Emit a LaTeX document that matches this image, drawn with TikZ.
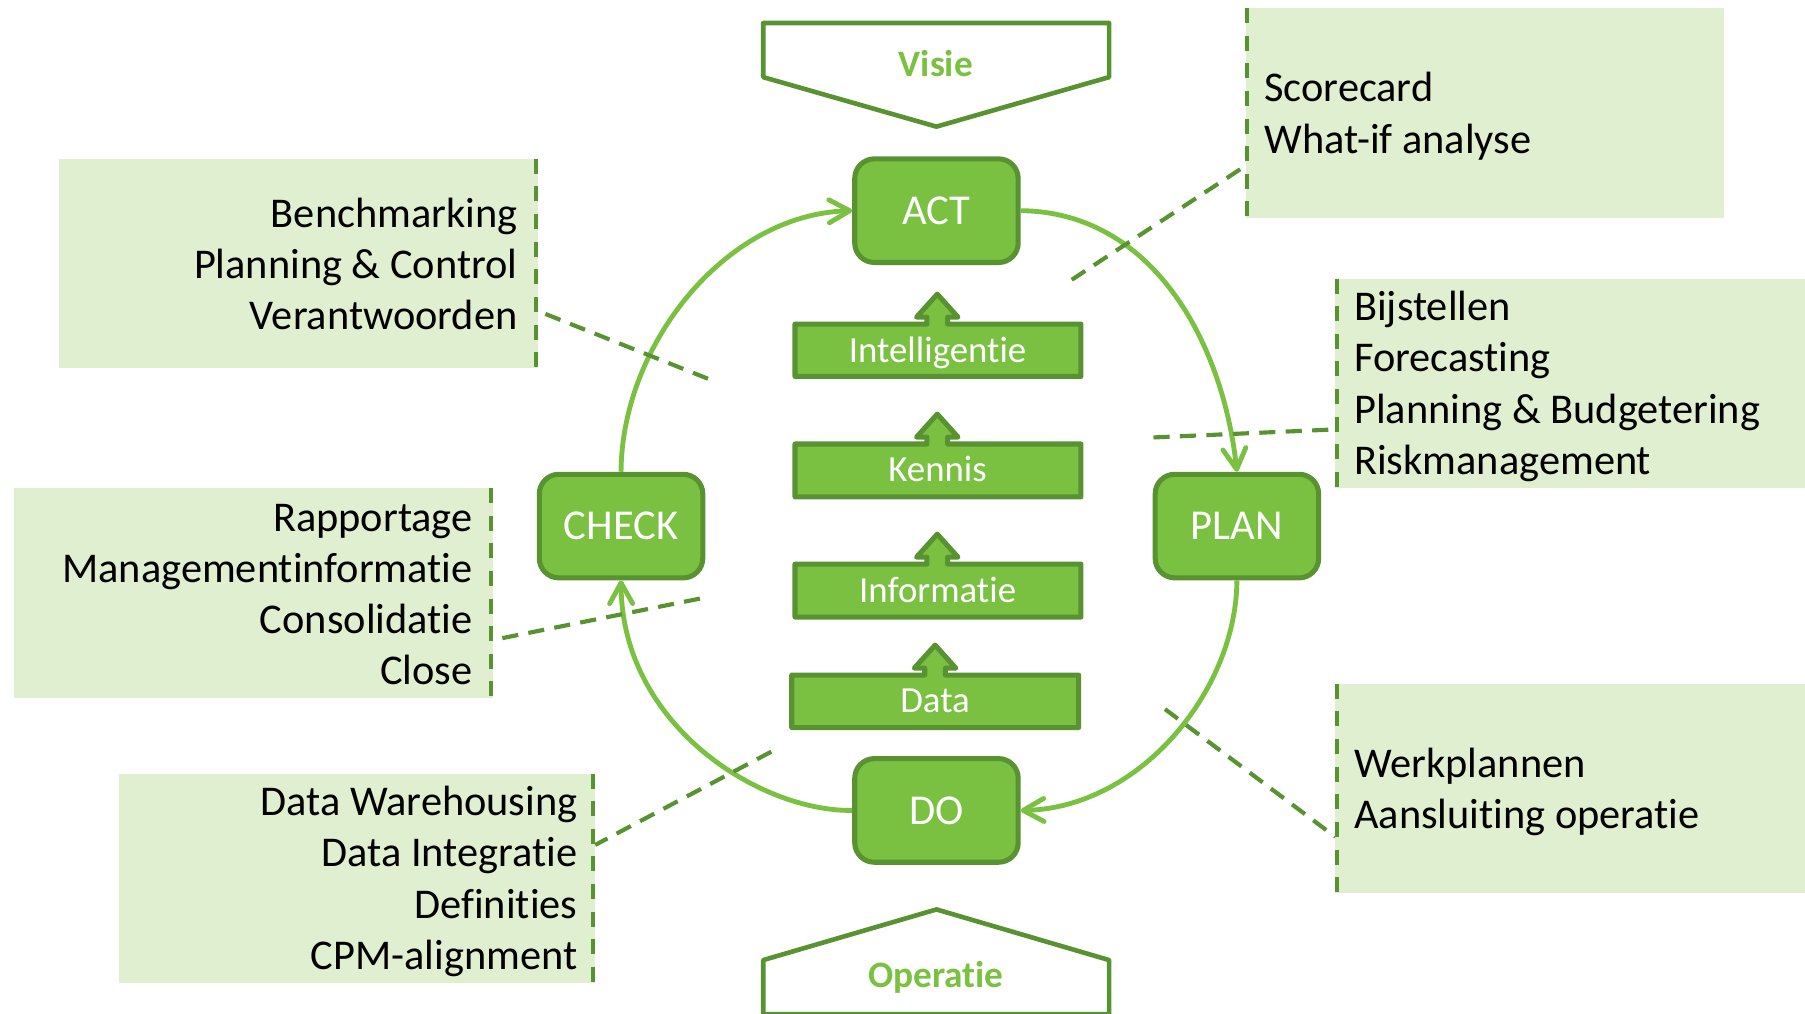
\documentclass[tikz,border=0pt]{standalone}
\usepackage{fontspec}
\setmainfont{Carlito}[Ligatures=NoCommon]
\usetikzlibrary{arrows.meta}
\definecolor{lg}{RGB}{122,193,66}
\definecolor{dg}{RGB}{89,146,49}
\definecolor{bx}{RGB}{223,239,208}
\newcommand\lyrpath[6]{% #1 xl, #2 xr, #3 cx, #4 ytop, #5 ybot, #6 tip
  \draw[layer] (#1,#4) -- ({#3-9},#4) -- ({#3-9},{#4-6}) -- ({#3-18},{#4-6}) -- (#3,#6)
    -- ({#3+18},{#4-6}) -- ({#3+9},{#4-6}) -- ({#3+9},#4) -- (#2,#4) -- (#2,#5) -- (#1,#5) -- cycle;}
\tikzset{
  phase/.style={rectangle, rounded corners=8.5pt, fill=lg, draw=dg, line width=2.2pt,
    minimum width=71pt, minimum height=45pt, inner sep=0pt, text=white,
    font=\fontsize{18.5}{22}\selectfont},
  cyc/.style={draw=lg, line width=2.1pt, -{Straight Barb[length=9pt,width=10pt,round]}},
  layer/.style={fill=lg, draw=dg, line width=2.2pt, line join=round},
  ltext/.style={text=white, font=\fontsize{16}{19}\selectfont, anchor=base, inner sep=0pt},
  lstr/.style={font=\fontsize{18.4}{22}\selectfont, inner sep=0pt, anchor=base east},
  lstl/.style={font=\fontsize{18.4}{22}\selectfont, inner sep=0pt, anchor=base west},
  dashline/.style={draw=dg, line width=1.8pt, dash pattern=on 7pt off 4.5pt},
  boxedge/.style={draw=dg, line width=1.8pt, dash pattern=on 6.5pt off 5.5pt},
  boxfill/.style={fill=bx},
  pent/.style={draw=dg, line width=2pt, line join=round, fill=white},
  ttl/.style={text=lg, font=\bfseries\fontsize{16.2}{19}\selectfont, inner sep=0pt}
}
\begin{document}
\begin{tikzpicture}[x=0.5pt,y=-0.5pt]
\useasboundingbox (0,0) rectangle (1568,880);

% ---- side boxes ----
\fill[boxfill] (1082,7) rectangle (1498,189);
\draw[boxedge] (1083.5,7) -- (1083.5,189);
\fill[boxfill] (51,138) rectangle (467,320);
\draw[boxedge] (465.5,138) -- (465.5,320);
\fill[boxfill] (1160,242) rectangle (1568,424);
\draw[boxedge] (1161.5,242) -- (1161.5,424);
\fill[boxfill] (12,424) rectangle (428,606);
\draw[boxedge] (426.5,424) -- (426.5,606);
\fill[boxfill] (1160,594) rectangle (1568,776);
\draw[boxedge] (1161.5,594) -- (1161.5,776);
\fill[boxfill] (103,672) rectangle (517,854);
\draw[boxedge] (515.5,672) -- (515.5,854);

% ---- box texts ----
\node[lstl] (t1) at (1098,88.5) {Scorecard};
\node[lstl] (t2) at (1098,133) {What-if analyse};

\node[lstr] (t3) at (450,197.5) {Benchmarking};
\node[lstr] (t4) at (450,242) {Planning \& Control};
\node[lstr] (t5) at (450,286.5) {Verantwoorden};

\node[lstl] (t6) at (1176,278.5) {Bijstellen};
\node[lstl] (t7) at (1176,323) {Forecasting};
\node[lstl] (t8) at (1176,367.5) {Planning \& Budgetering};
\node[lstl] (t9) at (1176,412) {Riskmanagement};

\node[lstr] (t10) at (411,461.5) {Rapportage};
\node[lstr] (t11) at (411,506) {Managementinformatie};
\node[lstr] (t12) at (411,550.5) {Consolidatie};
\node[lstr] (t13) at (411,595) {Close};

\node[lstl] (t14) at (1176,675) {Werkplannen};
\node[lstl] (t15) at (1176,719.5) {Aansluiting operatie};

\node[lstr] (t16) at (502,708.5) {Data Warehousing};
\node[lstr] (t17) at (502,753) {Data Integratie};
\node[lstr] (t18) at (502,797.5) {Definities};
\node[lstr] (t19) at (502,842) {CPM-alignment};

% ---- phases ----
\node[phase] (act) at (813.5,183) {ACT};
\node[phase] (check) at (539.5,457) {CHECK};
\node[phase] (plan) at (1074.5,457) {PLAN};
\node[phase] (do) at (813.5,704) {DO};

% ---- cycle arrows ----
\draw[cyc] (act.east) .. controls (1000,184) and (1062,295) .. (plan.north);
\draw[cyc] (plan.south) .. controls (1074,600) and (990,702) .. (do.east);
\draw[cyc] (do.west) .. controls (660,705) and (540,630) .. (check.south);
\draw[cyc] (check.north) .. controls (540,300) and (630,186) .. (act.west);

% ---- dashed connectors ----
\coordinate (d1a) at (931,243);  \coordinate (d1b) at (1082,144);
\coordinate (d2a) at (1002,380); \coordinate (d2b) at (1160,373);
\coordinate (d3a) at (1012,616); \coordinate (d3b) at (1160,727);
\coordinate (d4a) at (670,653);  \coordinate (d4b) at (517,734);
\coordinate (d5a) at (608,520);  \coordinate (d5b) at (428,556);
\coordinate (d6a) at (615,329);  \coordinate (d6b) at (467,270);
\draw[dashline] (d1a) -- (d1b);
\draw[dashline] (d2a) -- (d2b);
\draw[dashline] (d3a) -- (d3b);
\draw[dashline] (d4a) -- (d4b);
\draw[dashline] (d5a) -- (d5b);
\draw[dashline] (d6a) -- (d6b);

% ---- layers ----
\lyrpath{690.6}{939}{814.2}{281.5}{327}{255.5}
\node[ltext] (intel) at (814.5,314.5) {Intelligentie};
\lyrpath{690.6}{939}{814.2}{385.7}{431.6}{359.7}
\node[ltext] (kennis) at (814.5,418.5) {Kennis};
\lyrpath{690.6}{939}{814.2}{490}{536}{464}
\node[ltext] (info) at (814.5,523) {Informatie};
\lyrpath{687.8}{937}{812.3}{586.4}{632}{560.4}
\node[ltext] (data) at (812.3,619) {Data};

% ---- vision / operation ----
\draw[pent] (663,20) -- (963.5,20) -- (963.5,67) -- (813.5,110) -- (663,67) -- cycle;
\node[ttl] (visie) at (813,55) {Visie};
\draw[pent] (663,881) -- (663,834) -- (813.5,790) -- (963.5,834) -- (963.5,881) -- cycle;
\node[ttl, anchor=base] (oper) at (813,857.5) {Operatie};
\end{tikzpicture}
\end{document}
